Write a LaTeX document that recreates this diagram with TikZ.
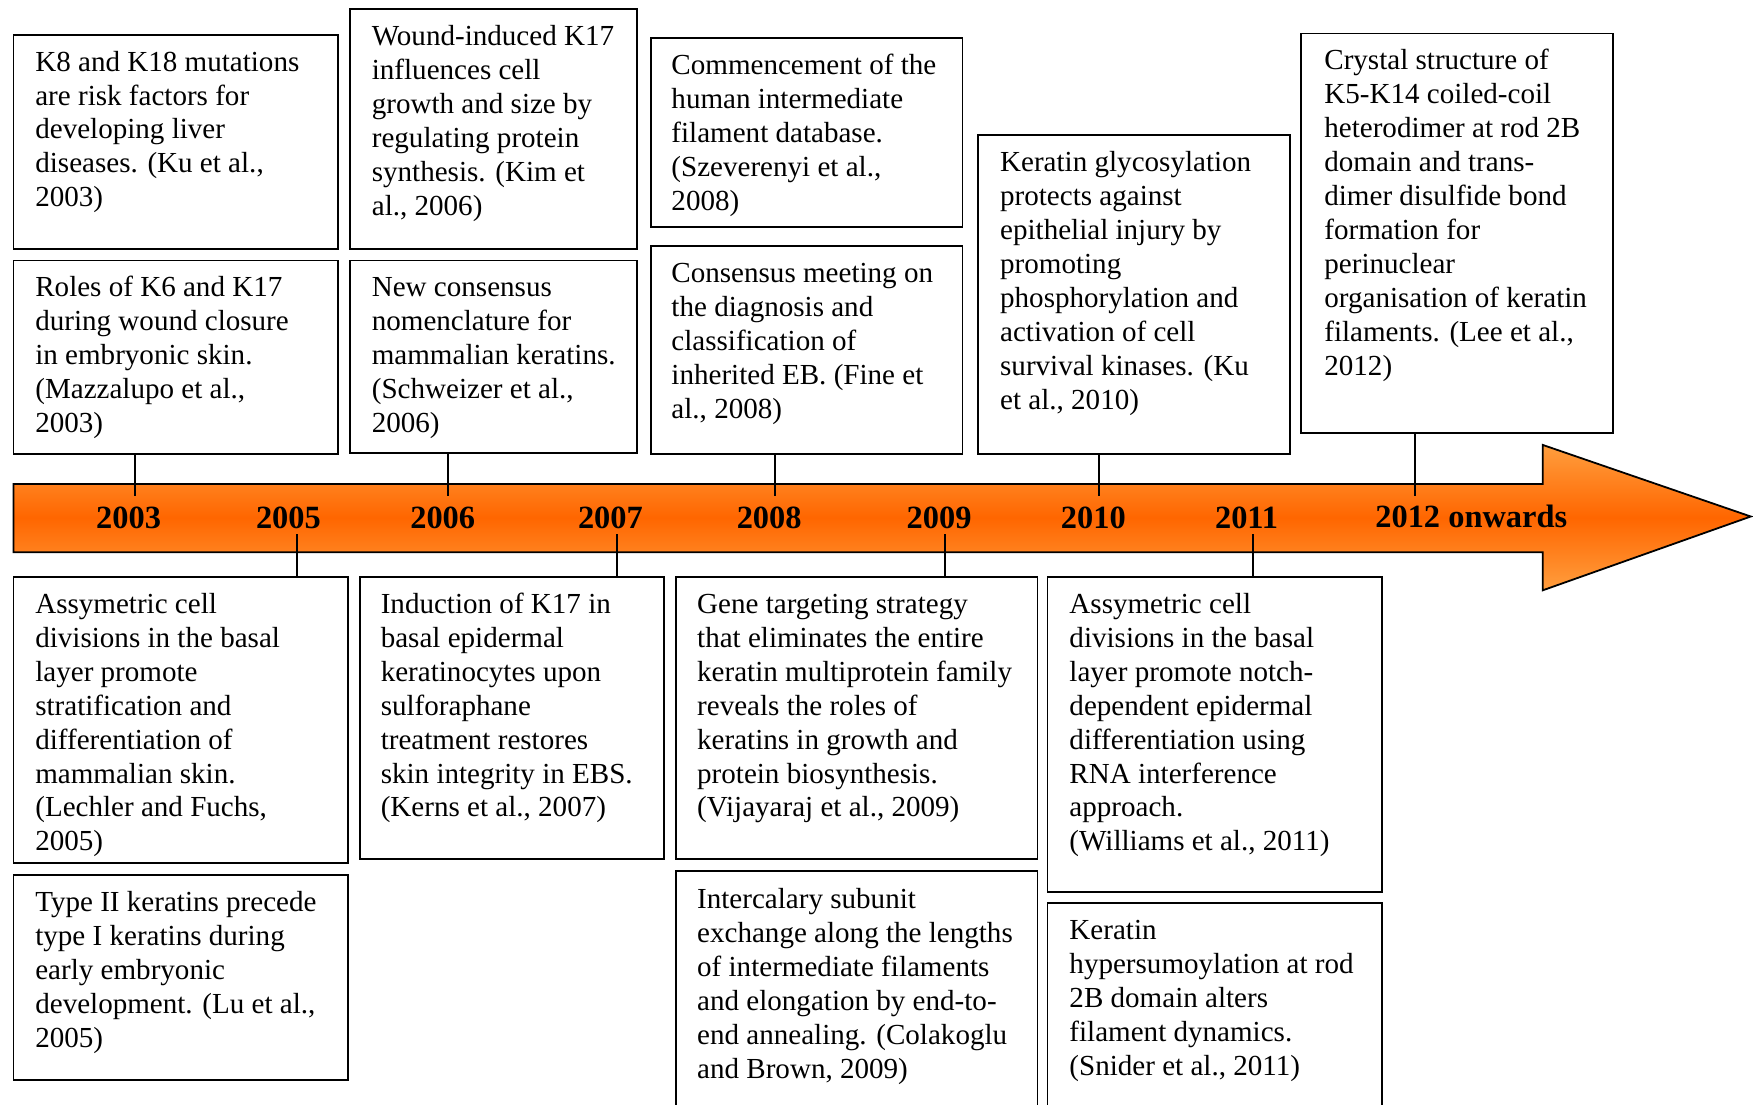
\documentclass[tikz,border=0pt]{standalone}
\usepackage{fontspec}
\setmainfont{Liberation Serif}
\usetikzlibrary{fit,calc}

\definecolor{barmid}{RGB}{255,102,0}
\definecolor{baredge}{RGB}{255,158,62}

% strut that fixes the first baseline of every text block
\newcommand\firstln{\rule{0pt}{12pt}}

\begin{document}
\begin{tikzpicture}[x=0.5pt,y=-0.5pt,
  box/.style={draw=black, line width=0.8pt, inner sep=0pt, fill=white},
  txt/.style={anchor=north west, align=left, inner sep=0pt,
              font=\fontsize{13}{15.18}\selectfont},
  yr/.style={anchor=base, inner sep=0pt,
             font=\fontsize{14.5}{16}\selectfont\bfseries},
  tickline/.style={line width=0.8pt}]

\useasboundingbox (0,0) rectangle (1568,988);
\clip (0,0) rectangle (1568,988);

% ---- timeline arrow ----
\path[draw=black, line width=0.8pt, top color=baredge, bottom color=baredge,
      middle color=barmid]
  (12,433) -- (1380,433) -- (1380,398) -- (1566,462) -- (1380,528)
  -- (1380,494) -- (12,494) -- cycle;

\node[yr] (y03) at (115,473) {2003};
\node[yr] (y05) at (258,473) {2005};
\node[yr] (y06) at (396,473) {2006};
\node[yr] (y07) at (546,473) {2007};
\node[yr] (y08) at (688,473) {2008};
\node[yr] (y09) at (840,473) {2009};
\node[yr] (y10) at (978,473) {2010};
\node[yr] (y11) at (1115,473) {2011};
\node[yr] (y12) at (1316,472) {2012 onwards};

% tick ends inside the bar
\coordinate (t03) at (121,444);
\coordinate (t06) at (401,444);
\coordinate (t08) at (693,444);
\coordinate (t10) at (983,444);
\coordinate (t12) at (1266,444);
\coordinate (t05) at (266,478);
\coordinate (t07) at (552,478);
\coordinate (t09) at (845,478);
\coordinate (t11) at (1121,478);

% ---- boxes above the timeline ----
\node[box, fit={(12,31) (302,223)}] (A) {};
\node[box, fit={(313,8) (570,223)}] (B) {};
\node[box, fit={(582,34) (861,203)}] (C) {};
\node[box, fit={(875,121) (1154,406)}] (D) {};
\node[box, fit={(1164,30) (1443,387)}] (E) {};
\node[box, fit={(12,233) (302,406)}] (F) {};
\node[box, fit={(313,233) (570,405)}] (G) {};
\node[box, fit={(582,220) (861,406)}] (H) {};

% ---- boxes below the timeline ----
\node[box, fit={(12,516) (311,772)}] (I) {};
\node[box, fit={(12,783) (311,966)}] (J) {};
\node[box, fit={(322,516) (594,768)}] (K) {};
\node[box, fit={(605,516) (928,768)}] (L) {};
\node[box, fit={(605,779) (928,1010)}] (M) {};
\node[box, fit={(937,516) (1236,798)}] (N) {};
\node[box, fit={(937,808) (1236,1010)}] (O) {};

% ---- connectors ----
\draw[tickline] (F.south -| t03) -- (t03);
\draw[tickline] (G.south -| t06) -- (t06);
\draw[tickline] (H.south -| t08) -- (t08);
\draw[tickline] (D.south -| t10) -- (t10);
\draw[tickline] (E.south -| t12) -- (t12);
\draw[tickline] (t05) -- (I.north -| t05);
\draw[tickline] (t07) -- (K.north -| t07);
\draw[tickline] (t09) -- (L.north -| t09);
\draw[tickline] (t11) -- (N.north -| t11);

% ---- texts ----
\node[txt] (At) at ($(A.north west)+(20,9)$) {\firstln K8 and K18 mutations\\are risk factors for\\developing liver\\diseases. (Ku et al.,\\2003)};
\node[txt] (Bt) at ($(B.north west)+(20,9)$) {\firstln Wound-induced K17\\influences cell\\growth and size by\\regulating protein\\synthesis. (Kim et\\al., 2006)};
\node[txt] (Ct) at ($(C.north west)+(19,9)$) {\firstln Commencement of the\\human intermediate\\filament database.\\(Szeverenyi et al.,\\2008)};
\node[txt] (Dt) at ($(D.north west)+(20,9)$) {\firstln Keratin glycosylation\\protects against\\epithelial injury by\\promoting\\phosphorylation and\\activation of cell\\survival kinases. (Ku\\et al., 2010)};
\node[txt] (Et) at ($(E.north west)+(21,9)$) {\firstln Crystal structure of\\K5-K14 coiled-coil\\heterodimer at rod 2B\\domain and trans-\\dimer disulfide bond\\formation for\\perinuclear\\organisation of keratin\\filaments. (Lee et al.,\\2012)};
\node[txt] (Ft) at ($(F.north west)+(20,9)$) {\firstln Roles of K6 and K17\\during wound closure\\in embryonic skin.\\(Mazzalupo et al.,\\2003)};
\node[txt] (Gt) at ($(G.north west)+(20,9)$) {\firstln New consensus\\nomenclature for\\mammalian keratins.\\(Schweizer et al.,\\2006)};
\node[txt] (Ht) at ($(H.north west)+(19,9)$) {\firstln Consensus meeting on\\the diagnosis and\\classification of\\inherited EB. (Fine et\\al., 2008)};
\node[txt] (It) at ($(I.north west)+(20,9)$) {\firstln Assymetric cell\\divisions in the basal\\layer promote\\stratification and\\differentiation of\\mammalian skin.\\(Lechler and Fuchs,\\2005)};
\node[txt] (Jt) at ($(J.north west)+(20,9)$) {\firstln Type II keratins precede\\type I keratins during\\early embryonic\\development. (Lu et al.,\\2005)};
\node[txt] (Kt) at ($(K.north west)+(19,9)$) {\firstln Induction of K17 in\\basal epidermal\\keratinocytes upon\\sulforaphane\\treatment restores\\skin integrity in EBS.\\(Kerns et al., 2007)};
\node[txt] (Lt) at ($(L.north west)+(19,9)$) {\firstln Gene targeting strategy\\that eliminates the entire\\keratin multiprotein family\\reveals the roles of\\keratins in growth and\\protein biosynthesis.\\(Vijayaraj et al., 2009)};
\node[txt] (Mt) at ($(M.north west)+(19,10)$) {\firstln Intercalary subunit\\exchange along the lengths\\of intermediate filaments\\and elongation by end-to-\\end annealing. (Colakoglu\\and Brown, 2009)};
\node[txt] (Nt) at ($(N.north west)+(20,9)$) {\firstln Assymetric cell\\divisions in the basal\\layer promote notch-\\dependent epidermal\\differentiation using\\RNA interference\\approach.\\(Williams et al., 2011)};
\node[txt] (Ot) at ($(O.north west)+(20,9)$) {\firstln Keratin\\hypersumoylation at rod\\2B domain alters\\filament dynamics.\\(Snider et al., 2011)};

\end{tikzpicture}
\end{document}
